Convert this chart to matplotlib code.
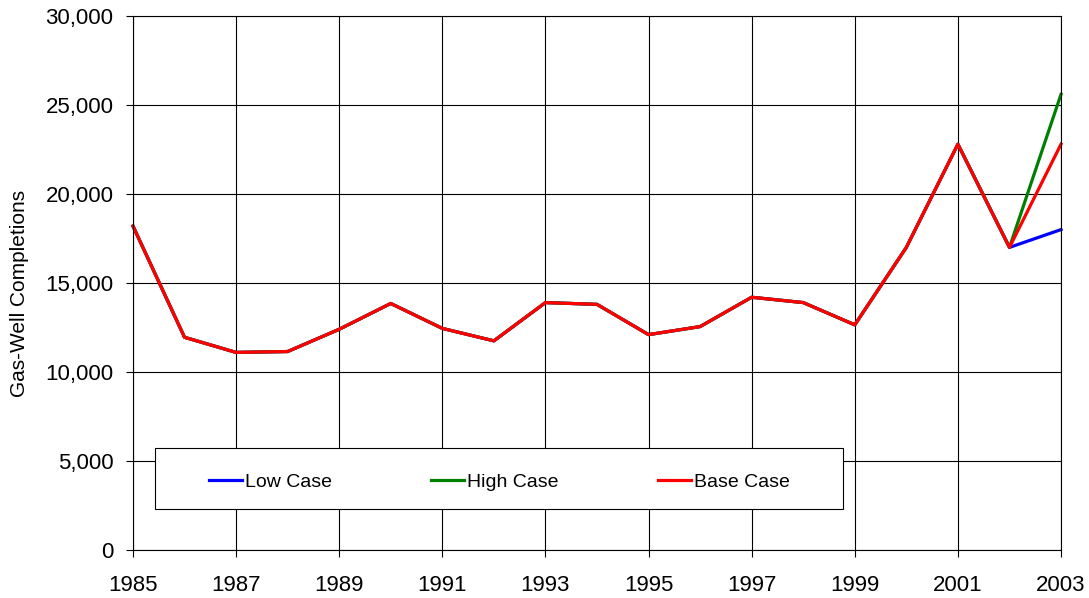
import numpy as np
import matplotlib.pyplot as plt
from matplotlib.patches import Rectangle

plt.rcParams['font.family'] = ['Liberation Sans', 'DejaVu Sans']

years = list(range(1985, 2004))
# history shared by all three cases (1985-2002)
history = [18200, 11950, 11100, 11150, 12400, 13850, 12450, 11750, 13900,
           13800, 12100, 12550, 14200, 13900, 12650, 17000, 22800, 17000]
low_2003 = 18000
high_2003 = 25600
base_2003 = 22800

low = history + [low_2003]
high = history + [high_2003]
base = history + [base_2003]

fig = plt.figure(figsize=(10.89, 5.98), dpi=100)
ax = fig.add_axes([0.1221, 0.0803, 0.8522, 0.8929])

ax.plot(years, low, color='#0000ff', lw=2.3, label='Low Case', clip_on=False)
ax.plot(years, high, color='#008000', lw=2.3, label='High Case', clip_on=False)
ax.plot(years, base, color='#ff0000', lw=2.3, label='Base Case', clip_on=False)

ax.set_xlim(1985, 2003)
ax.set_ylim(0, 30000)
ax.set_xticks(range(1985, 2004, 2))
ax.set_yticks(range(0, 30001, 5000))
ax.yaxis.set_major_formatter(plt.FuncFormatter(lambda v, p: f'{int(v):,}'))
ax.grid(True, color='black', lw=0.8)
ax.set_axisbelow(True)
ax.tick_params(axis='both', labelsize=16, length=5, width=0.8, direction='out',
               color='black')
ax.tick_params(axis='x', pad=13)
ax.tick_params(axis='y', pad=9)
for s in ax.spines.values():
    s.set_linewidth(0.8)
ax.set_ylabel('Gas-Well Completions', fontsize=15)
ax.yaxis.set_label_coords(-0.112, 0.481)

# legend box drawn separately so the entries can sit with wide spacing
box = Rectangle((0.0237, 0.0768), 0.741, 0.114, transform=ax.transAxes,
                facecolor='white', edgecolor='black', lw=0.8, zorder=5)
ax.add_patch(box)
leg = ax.legend(loc='center', bbox_to_anchor=(0.395, 0.127), ncol=3,
                fontsize=14, handlelength=1.7, handletextpad=0.15,
                columnspacing=5.1, frameon=False)
leg.set_zorder(6)

fig.savefig('out.png', dpi=100)
